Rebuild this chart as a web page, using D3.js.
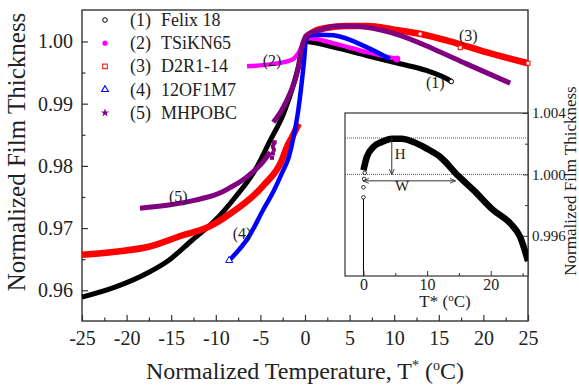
<!DOCTYPE html>
<html>
<head>
<meta charset="utf-8">
<script src="https://cdn.jsdelivr.net/npm/d3@7"></script>
<style>
  body { margin: 0; background: #fff; }
</style>
</head>
<body>
<div id="viz"></div>
<script>
// (T*, thickness) pairs
const felixT = [-25, -21.3, -17.5, -15.3, -12.7, -10.1, -7.8, -5.6, -3.9, -2.4, -1.3, -0.5, 0, 3.2, 6.9, 10.65, 13.6, 15.9, 16.4];
const felixV = [0.9589, 0.9605, 0.9629, 0.9648, 0.9680, 0.9712, 0.9750, 0.9793, 0.9841, 0.9884, 0.9930, 0.9972, 1.0000, 0.9991, 0.99775, 0.99642, 0.99534, 0.9940, 0.99357];

const tsiknT = [-6.5, -3.5, -2, -1.3, -0.7, -0.4, 0, 0.5, 3.2, 6.9, 10.3];
const tsiknV = [0.9960, 0.9964, 0.9968, 0.9972, 0.9982, 0.9991, 1.0003, 1.0005, 0.9997, 0.99828, 0.9972];

const d2rLowT = [-25, -21.3, -17.5, -13.8, -10.8, -8.4, -4.7, -2.6, -2.05, -1.5, -0.7];
const d2rLowV = [0.9657, 0.9662, 0.9670, 0.9688, 0.9702, 0.9723, 0.9768, 0.9809, 0.9830, 0.9845, 0.9868];
const d2rHighT = [0, 1, 2.5, 4.5, 7, 10, 13, 17, 21, 25];
const d2rHighV = [1.0006, 1.0016, 1.0022, 1.0025, 1.0025, 1.0019, 1.0012, 0.9997, 0.9980, 0.9965];
const d2rMarks = [[12.9, 1.0012], [17.4, 0.9990], [25, 0.9965]];

const ofT = [-8.5, -6.3, -4.7, -3.5, -2.6, -1.8, -1.3, -0.8, -0.4, -0.1, 0.1, 0.5, 1.7, 3.2, 6.9, 9.5];
const ofV = [0.9648, 0.9686, 0.9729, 0.9760, 0.9788, 0.9815, 0.9845, 0.9885, 0.9930, 0.9970, 1.0003, 1.0010, 1.0011, 1.0010, 0.9991, 0.9972];

const mhLowT = [-18.5, -15.3, -12.3, -9.3, -8.4, -7.1, -6.2, -4.8, -3.9];
const mhLowV = [0.9732, 0.9737, 0.9745, 0.9758, 0.9765, 0.9776, 0.9786, 0.9805, 0.9822];
const mhHighT = [-3.55, -2.6, -1.7, -0.8, -0.4, -0.1, 0.2, 1, 1.7, 3.2, 5, 6.9, 10.65, 14.4, 18.1, 23];
const mhHighV = [0.9870, 0.9890, 0.9916, 0.9955, 0.9988, 1.0003, 1.0010, 1.0016, 1.0019, 1.0024, 1.0025, 1.0023, 1.0010, 0.9988, 0.9964, 0.9933];
const mhScatter = [[-3.7, 0.9813], [-3.6, 0.9820], [-3.5, 0.9826], [-3.6, 0.9831], [-3.5, 0.9836], [-3.4, 0.9838]];

// inset: Felix 18 around the transition
const insetT = [0, 0.53, 1.57, 2.88, 4.45, 6.0, 7.85, 9.95, 12.05, 14.9, 17.3, 20.4, 23.1, 24.6, 25.85];
const insetV = [1.00027, 1.00114, 1.00179, 1.00211, 1.00233, 1.00233, 1.00211, 1.00168, 1.00114, 0.9999, 0.99897, 0.99767, 0.9968, 0.99594, 0.99435];
const insetLowT = [0, 0, 0.1, 0.2];
const insetLowV = [0.99851, 0.99916, 0.9997, 1.0001];
const insetLevels = [1.000, 1.00237];
const hArrow = [4.45, 1.00237, 1.000];
const wArrow = [0, 14.4, 0.99958];

const mainXTicks = [-25, -20, -15, -10, -5, 0, 5, 10, 15, 20, 25];
const mainYTicks = [0.96, 0.97, 0.98, 0.99, 1.00];
const insetXTicks = [0, 10, 20];
const insetYTicks = [0.996, 1.000, 1.004];

const legendNames = ['(1)', '(2)', '(3)', '(4)', '(5)'];
const legendLabels = ['Felix 18', 'TSiKN65', 'D2R1-14', '12OF1M7', 'MHPOBC'];
const colors = ['#000000', '#ff00ff', '#ff0000', '#0000ff', '#800080'];
const curveTags = [[14.6, 0.99346, '(1)'], [-3.7, 0.99695, '(2)'], [18.3, 1.00096, '(3)'], [-7.06, 0.9691, '(4)'], [-14.2, 0.9751, '(5)']];

const FONT = '"Liberation Serif", "Times New Roman", "DejaVu Serif", serif';

function zip(ts, vs) {
    return ts.map((t, i) => [t, vs[i]]);
}

const width = 579, height = 388;
const box = { left: 82, right: 528, top: 10, bottom: 321 };

const svg = d3.select('#viz').append('svg')
    .attr('width', width)
    .attr('height', height)
    .attr('font-family', FONT);

const x = d3.scaleLinear().domain([-25, 25]).range([box.left, box.right]);
const y = d3.scaleLinear().domain([0.95506, 1.00506]).range([box.bottom, box.top]);

const line = d3.line()
    .x(d => x(d[0]))
    .y(d => y(d[1]))
    .curve(d3.curveMonotoneX);

// axes
svg.append('g')
    .attr('transform', 'translate(0,' + box.bottom + ')')
    .call(d3.axisBottom(x).tickValues(mainXTicks).tickSize(-6).tickSizeOuter(0).tickPadding(10).tickFormat(d => String(d)));
svg.append('g')
    .attr('transform', 'translate(0,' + box.bottom + ')')
    .call(d3.axisBottom(x).tickValues(mainXTicks.slice(1).map(d => d - 2.5)).tickSize(-3.5).tickSizeOuter(0).tickFormat(''));

svg.append('g')
    .attr('transform', 'translate(' + box.left + ',0)')
    .call(d3.axisLeft(y).tickValues(mainYTicks).tickSize(-6).tickSizeOuter(0).tickPadding(9).tickFormat(d3.format('.2f')));
svg.append('g')
    .attr('transform', 'translate(' + box.left + ',0)')
    .call(d3.axisLeft(y).tickValues([0.965, 0.975, 0.985, 0.995]).tickSize(-3.5).tickSizeOuter(0).tickFormat(''));

svg.selectAll('.tick text').attr('font-size', 20);
svg.selectAll('.domain').remove();
svg.selectAll('.tick line').attr('stroke', '#333').attr('stroke-width', 1.2);

svg.append('rect')
    .attr('x', box.left).attr('y', box.top)
    .attr('width', box.right - box.left).attr('height', box.bottom - box.top)
    .attr('fill', 'none').attr('stroke', '#333').attr('stroke-width', 1.4);

const plot = svg.append('g');

plot.append('path').datum(zip(felixT, felixV))
    .attr('d', line).attr('fill', 'none').attr('stroke', colors[0]).attr('stroke-width', 5);
plot.append('path').datum(zip(tsiknT, tsiknV))
    .attr('d', line).attr('fill', 'none').attr('stroke', colors[1]).attr('stroke-width', 4.5);
[zip(d2rLowT, d2rLowV), zip(d2rHighT, d2rHighV)].forEach(seg => {
    plot.append('path').datum(seg)
        .attr('d', line).attr('fill', 'none').attr('stroke', colors[2]).attr('stroke-width', 6.5);
});
plot.append('path').datum(zip(ofT, ofV))
    .attr('d', line).attr('fill', 'none').attr('stroke', colors[3]).attr('stroke-width', 4.5);
[zip(mhLowT, mhLowV), zip(mhHighT, mhHighV)].forEach(seg => {
    plot.append('path').datum(seg)
        .attr('d', line).attr('fill', 'none').attr('stroke', colors[4]).attr('stroke-width', 5);
});
plot.selectAll('.mh-scatter').data(mhScatter).enter().append('rect')
    .attr('x', d => x(d[0]) - 2).attr('y', d => y(d[1]) - 2)
    .attr('width', 4).attr('height', 4).attr('fill', colors[4]);

plot.selectAll('.d2r-mark').data(d2rMarks).enter().append('rect')
    .attr('x', d => x(d[0]) - 2).attr('y', d => y(d[1]) - 2)
    .attr('width', 4).attr('height', 4)
    .attr('fill', '#fff').attr('stroke', colors[2]).attr('stroke-width', 1);

// end markers
const fEnd = [felixT[felixT.length - 1], felixV[felixV.length - 1]];
plot.append('circle').attr('cx', x(fEnd[0])).attr('cy', y(fEnd[1])).attr('r', 2.3)
    .attr('fill', '#fff').attr('stroke', '#000').attr('stroke-width', 1);
const tEnd = [tsiknT[tsiknT.length - 1], tsiknV[tsiknV.length - 1]];
plot.append('circle').attr('cx', x(tEnd[0])).attr('cy', y(tEnd[1])).attr('r', 3.5)
    .attr('fill', colors[1]);
plot.append('path')
    .attr('d', d3.symbol(d3.symbolTriangle, 22)())
    .attr('transform', 'translate(' + x(ofT[0]) + ',' + y(ofV[0]) + ')')
    .attr('fill', '#fff').attr('stroke', colors[3]).attr('stroke-width', 1);

// curve tags
svg.selectAll('.tag').data(curveTags).enter().append('text')
    .attr('x', d => x(d[0])).attr('y', d => y(d[1]))
    .attr('text-anchor', 'middle').attr('dominant-baseline', 'central')
    .attr('font-size', 16).attr('fill', '#222')
    .text(d => d[2]);

// legend
const legend = svg.append('g');
const symbols = [
    g => g.append('circle').attr('r', 2.3).attr('fill', '#fff').attr('stroke', colors[0]).attr('stroke-width', 1),
    g => g.append('circle').attr('r', 2.6).attr('fill', colors[1]),
    g => g.append('rect').attr('x', -2.3).attr('y', -2.3).attr('width', 4.6).attr('height', 4.6)
            .attr('fill', '#fff').attr('stroke', colors[2]).attr('stroke-width', 1),
    g => g.append('path').attr('d', d3.symbol(d3.symbolTriangle, 20)())
            .attr('fill', '#fff').attr('stroke', colors[3]).attr('stroke-width', 1.1),
    g => g.append('path').attr('d', d3.symbol(d3.symbolStar, 22)()).attr('fill', colors[4])
];
legendLabels.forEach((name, i) => {
    const ly = 20 + i * 23.2;
    const m = legend.append('g').attr('transform', 'translate(105,' + ly + ')');
    symbols[i](m);
    legend.append('text').attr('x', 130).attr('y', ly + 6).attr('font-size', 18).text(legendNames[i]);
    legend.append('text').attr('x', 161).attr('y', ly + 6).attr('font-size', 18).text(name);
});

// axis titles
const xt = svg.append('text')
    .attr('x', 305).attr('y', 379)
    .attr('text-anchor', 'middle')
    .attr('font-size', 24);
xt.append('tspan').text('Normalized Temperature, T');
xt.append('tspan').attr('dy', -9).attr('font-size', 14).text('*');
xt.append('tspan').attr('dy', 9).text(' (');
xt.append('tspan').attr('dy', -9).attr('font-size', 14).text('o');
xt.append('tspan').attr('dy', 9).text('C)');

svg.append('text')
    .attr('transform', 'translate(25,152) rotate(-90)')
    .attr('text-anchor', 'middle')
    .attr('font-size', 25)
    .text('Normalized Film Thickness');

// inset
const ib = { left: 345, right: 528, top: 113, bottom: 276 };
const xi = d3.scaleLinear().domain([-2.9, 25.85]).range([ib.left, ib.right]);
const yi = d3.scaleLinear().domain([0.99338, 1.004]).range([ib.bottom, ib.top]);
const lineI = d3.line().x(d => xi(d[0])).y(d => yi(d[1])).curve(d3.curveMonotoneX);

const inset = svg.append('g');
inset.append('rect')
    .attr('x', ib.left).attr('y', ib.top)
    .attr('width', ib.right - ib.left).attr('height', ib.bottom - ib.top)
    .attr('fill', '#fff').attr('stroke', '#333').attr('stroke-width', 1.2);

svg.append('clipPath').attr('id', 'insetClip').append('rect')
    .attr('x', ib.left).attr('y', ib.top)
    .attr('width', ib.right - ib.left).attr('height', ib.bottom - ib.top);

inset.selectAll('.lvl').data(insetLevels).enter().append('line')
    .attr('x1', ib.left).attr('x2', ib.right)
    .attr('y1', d => yi(d)).attr('y2', d => yi(d))
    .attr('stroke', '#555').attr('stroke-width', 1).attr('stroke-dasharray', '1,1');

const inner = inset.append('g').attr('clip-path', 'url(#insetClip)');
inner.append('line')
    .attr('x1', xi(0)).attr('x2', xi(0))
    .attr('y1', yi(0.99338)).attr('y2', yi(insetLowV[0]))
    .attr('stroke', '#000').attr('stroke-width', 1);
inner.selectAll('.low').data(zip(insetLowT, insetLowV)).enter().append('circle')
    .attr('cx', d => xi(d[0])).attr('cy', d => yi(d[1])).attr('r', 1.8)
    .attr('fill', '#fff').attr('stroke', '#000').attr('stroke-width', 0.8);
inner.append('path').datum(zip(insetT, insetV))
    .attr('d', lineI).attr('fill', 'none').attr('stroke', '#000').attr('stroke-width', 6.5);

// H and W arrows
const defs = svg.append('defs');
defs.append('marker').attr('id', 'arr')
    .attr('viewBox', '0 0 10 10').attr('refX', 9).attr('refY', 5)
    .attr('markerWidth', 6).attr('markerHeight', 6).attr('orient', 'auto-start-reverse')
    .append('path').attr('d', 'M0,1 L10,5 L0,9').attr('fill', 'none').attr('stroke', '#333').attr('stroke-width', 1.5);

inset.append('line')
    .attr('x1', xi(hArrow[0])).attr('x2', xi(hArrow[0]))
    .attr('y1', yi(hArrow[1])).attr('y2', yi(hArrow[2]))
    .attr('stroke', '#333').attr('stroke-width', 1).attr('marker-end', 'url(#arr)');
inset.append('line')
    .attr('x1', xi(wArrow[0])).attr('x2', xi(wArrow[1]))
    .attr('y1', yi(wArrow[2])).attr('y2', yi(wArrow[2]))
    .attr('stroke', '#333').attr('stroke-width', 1)
    .attr('marker-start', 'url(#arr)').attr('marker-end', 'url(#arr)');
inset.append('text').attr('x', xi(hArrow[0]) + 3).attr('y', 159).attr('font-size', 15).text('H');
inset.append('text').attr('x', 395).attr('y', 191).attr('font-size', 15).text('W');

// inset axes
const ixAxis = inset.append('g')
    .attr('transform', 'translate(0,' + ib.bottom + ')')
    .call(d3.axisBottom(xi).tickValues(insetXTicks).tickSize(-5).tickSizeOuter(0).tickPadding(3));
inset.append('g')
    .attr('transform', 'translate(0,' + ib.bottom + ')')
    .call(d3.axisBottom(xi).tickValues([5, 15, 25]).tickSize(-3).tickSizeOuter(0).tickFormat(''));
const iyAxis = inset.append('g')
    .attr('transform', 'translate(' + ib.right + ',0)')
    .call(d3.axisRight(yi).tickValues(insetYTicks).tickSize(-5).tickSizeOuter(0).tickPadding(4).tickFormat(d3.format('.3f')));
inset.append('g')
    .attr('transform', 'translate(' + ib.right + ',0)')
    .call(d3.axisRight(yi).tickValues([0.998, 1.002]).tickSize(-3).tickSizeOuter(0).tickFormat(''));
inset.selectAll('.domain').remove();
inset.selectAll('.tick line').attr('stroke', '#333');
ixAxis.selectAll('text').attr('font-size', 16);
iyAxis.selectAll('text').attr('font-size', 15);

const it = inset.append('text').attr('x', 445).attr('y', 307).attr('text-anchor', 'middle').attr('font-size', 17);
it.append('tspan').text('T* (');
it.append('tspan').attr('dy', -6).attr('font-size', 11).text('o');
it.append('tspan').attr('dy', 6).text('C)');

svg.append('text')
    .attr('transform', 'translate(576,181) rotate(-90)')
    .attr('text-anchor', 'middle')
    .attr('font-size', 17)
    .text('Normalized Film Thickness');

// axis groups set their own sans-serif font; put the serif face back on every text
svg.selectAll('g').attr('font-family', null);
svg.selectAll('text').style('font-family', FONT).attr('fill', '#222');
</script>
</body>
</html>
